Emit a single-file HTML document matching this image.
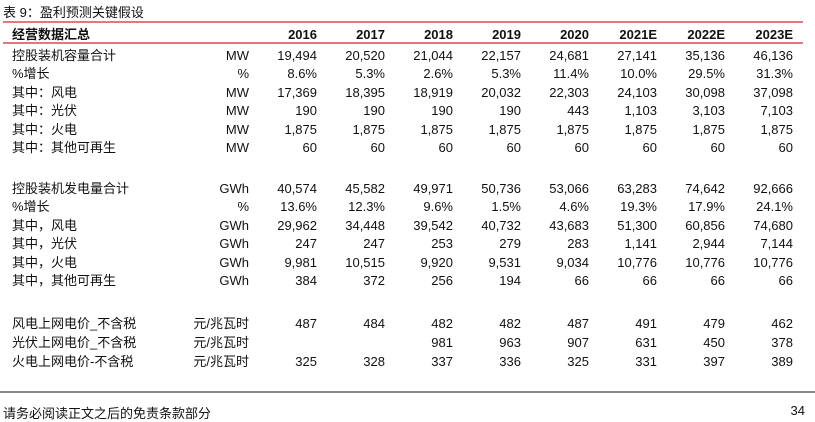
<!DOCTYPE html>
<html><head><meta charset="utf-8"><style>
body{margin:0;width:815px;height:408px;background:#fff;overflow:hidden;position:relative;font-family:"Liberation Sans","Noto Sans CJK SC",sans-serif;color:#111;font-size:13px}
.r{position:absolute;left:0;width:815px;height:18px;line-height:18px}
.r span{position:absolute;white-space:nowrap}
.l{left:12px}
.u{right:566px;text-align:right}
.n{text-align:right}
.h{font-weight:bold}
</style></head><body>
<div style="position:absolute;left:3px;top:2px;font-size:13px">表 9：盈利预测关键假设</div>
<div style="position:absolute;left:3px;top:21px;width:800px;height:2px;background:#e07a7a"></div>
<div style="position:absolute;left:3px;top:42px;width:800px;height:2px;background:#e07a7a"></div>
<div style="position:absolute;left:0;top:391px;width:815px;height:2px;background:#888"></div>
<div style="position:absolute;left:3px;top:403px;font-size:13px">请务必阅读正文之后的免责条款部分</div>
<div style="position:absolute;right:10px;top:403px;font-size:13px">34</div>
<div id="t"></div>
<script>
const years=["2016","2017","2018","2019","2020","2021E","2022E","2023E"];
const rows=[
["经营数据汇总","",years,26,true],
["控股装机容量合计","MW",["19,494","20,520","21,044","22,157","24,681","27,141","35,136","46,136"],47],
["%增长","%",["8.6%","5.3%","2.6%","5.3%","11.4%","10.0%","29.5%","31.3%"],65],
["其中：风电","MW",["17,369","18,395","18,919","20,032","22,303","24,103","30,098","37,098"],84],
["其中：光伏","MW",["190","190","190","190","443","1,103","3,103","7,103"],102],
["其中：火电","MW",["1,875","1,875","1,875","1,875","1,875","1,875","1,875","1,875"],121],
["其中：其他可再生","MW",["60","60","60","60","60","60","60","60"],139],
["控股装机发电量合计","GWh",["40,574","45,582","49,971","50,736","53,066","63,283","74,642","92,666"],180],
["%增长","%",["13.6%","12.3%","9.6%","1.5%","4.6%","19.3%","17.9%","24.1%"],198],
["其中，风电","GWh",["29,962","34,448","39,542","40,732","43,683","51,300","60,856","74,680"],217],
["其中，光伏","GWh",["247","247","253","279","283","1,141","2,944","7,144"],235],
["其中，火电","GWh",["9,981","10,515","9,920","9,531","9,034","10,776","10,776","10,776"],254],
["其中，其他可再生","GWh",["384","372","256","194","66","66","66","66"],272],
["风电上网电价_不含税","元/兆瓦时",["487","484","482","482","487","491","479","462"],315],
["光伏上网电价_不含税","元/兆瓦时",["","","981","963","907","631","450","378"],334],
["火电上网电价-不含税","元/兆瓦时",["325","328","337","336","325","331","397","389"],353]
];
const rights=[317,385,453,521,589,657,725,793];
const t=document.getElementById('t');
rows.forEach((r,i)=>{
 const d=document.createElement('div');
 d.className='r'+(r[4]?' h':'');
 d.style.top=r[3]+'px';
 
 
 let h='<span class="l">'+r[0]+'</span>';
 if(r[1])h+='<span class="u">'+r[1]+'</span>';
 r[2].forEach((v,j)=>{h+='<span class="n" style="right:'+(815-rights[j])+'px">'+v+'</span>';});
 d.innerHTML=h;
 t.appendChild(d);
});
</script>
</body></html>
